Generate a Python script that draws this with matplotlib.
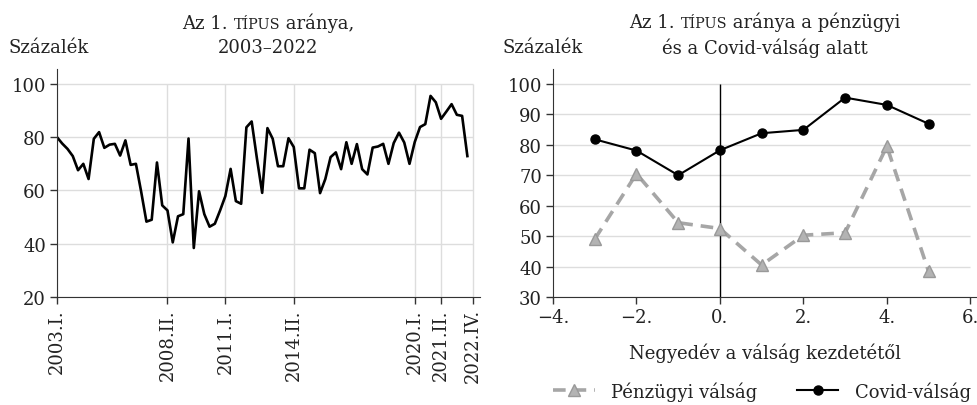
import matplotlib.pyplot as plt
from matplotlib.lines import Line2D
from matplotlib.offsetbox import TextArea, HPacker, VPacker, AnnotationBbox

plt.rcParams['font.family'] = ['DejaVu Serif']

# left panel: share of type 1, quarterly from 2003.I
share = [80, 77.6, 75.6, 72.9, 67.6, 70, 64.3, 79.4, 81.9, 76,
         77.2, 77.5, 73.1, 78.8, 69.6, 70, 59.5, 48.3, 49, 70.5,
         54.4, 52.5, 40.5, 50.3, 51.1, 79.5, 38.4, 59.7, 51.1, 46.4,
         47.5, 52.5, 57.9, 68.1, 56, 55, 83.7, 85.9, 72, 59.1,
         83.4, 79.4, 69.1, 69.1, 79.6, 76.3, 60.8, 60.8, 75.3, 74,
         59, 64.3, 72.5, 74.3, 68, 78.1, 70, 77.4, 68, 66,
         76.1, 76.5, 77.5, 70, 77.8, 81.7, 78, 70, 78.2, 83.8,
         84.9, 95.5, 93.1, 86.9, 89.6, 92.4, 88.4, 88, 72.9]
left_tick_pos = [0, 21, 32, 45, 68, 73, 79]
left_tick_labels = ["2003.I.", "2008.II.", "2011.I.", "2014.II.",
                    "2020.I.", "2021.II.", "2022.IV."]
left_yticks = [20, 40, 60, 80, 100]

# right panel: quarters from crisis start
quarters = [-3, -2, -1, 0, 1, 2, 3, 4, 5]
financial = [49, 70.5, 54.4, 52.5, 40.5, 50.3, 51.1, 79.5, 38.4]
covid = [81.8, 78.1, 70, 78.2, 83.8, 84.9, 95.5, 93.1, 86.9]
right_xticks = [-4, -2, 0, 2, 4, 6]
right_xlabels = ["\u22124.", "\u22122.", "0.", "2.", "4.", "6."]
right_yticks = [30, 40, 50, 60, 70, 80, 90, 100]

FS = 13
txt_c = "#222222"
grid_c = "#dddddd"

fig = plt.figure(figsize=(9.78, 4.06), dpi=100)
ax1 = fig.add_axes([57 / 978, 108 / 406, 423 / 978, 228 / 406])
ax2 = fig.add_axes([553 / 978, 108 / 406, 424 / 978, 228 / 406])

for ax in (ax1, ax2):
    ax.spines["top"].set_visible(False)
    ax.spines["right"].set_visible(False)
    ax.spines["left"].set_color("#333333")
    ax.spines["bottom"].set_color("#333333")
    ax.tick_params(direction="out", length=5, width=1, colors="#333333",
                   labelsize=FS, labelcolor=txt_c, pad=3)

# ---- left
ax1.set_xlim(0, 80.4)
ax1.set_ylim(20, 105.6)
ax1.hlines(left_yticks, 0, 79, color=grid_c, lw=1, zorder=0)
ax1.vlines(left_tick_pos, 20, 100, color=grid_c, lw=1, zorder=0)
ax1.plot(range(len(share)), share, color="black", lw=1.9)
ax1.set_yticks(left_yticks)
ax1.set_xticks(left_tick_pos)
ax1.set_xticklabels(left_tick_labels, rotation=90)

# ---- right
ax2.set_xlim(-4, 6.16)
ax2.set_ylim(30, 104.9)
ax2.hlines(right_yticks, -4, 6, color=grid_c, lw=1, zorder=0)
ax2.vlines(0, 30, 100, color="black", lw=1, zorder=1)
ax2.plot(quarters, financial, color="#a6a6a6", lw=2.6, ls=(0, (3.5, 2.2)),
         marker="^", ms=8, mfc="#b3b3b3", mec="#999999", zorder=3)
ax2.plot(quarters, covid, color="black", lw=1.5, marker="o", ms=6.5, zorder=4)
ax2.set_yticks(right_yticks)
ax2.set_xticks(right_xticks)
ax2.set_xticklabels(right_xlabels)
ax2.set_xlabel("Negyedév a válság kezdetétől", fontsize=FS, labelpad=12,
               color=txt_c)


def title_box(ax, prefix, suffix, line2):
    small = dict(fontsize=FS * 0.8, color=txt_c)
    norm = dict(fontsize=FS, color=txt_c)
    row = HPacker(children=[TextArea(prefix, textprops=norm),
                            TextArea("TÍPUS", textprops=small),
                            TextArea(suffix, textprops=norm)],
                  align="baseline", pad=0, sep=0)
    box = VPacker(children=[row, TextArea(line2, textprops=norm)],
                  align="center", pad=0, sep=4)
    ab = AnnotationBbox(box, (0.5, 1.0), xycoords="axes fraction",
                        xybox=(0, 25), boxcoords="offset points",
                        frameon=False, box_alignment=(0.5, 0.5))
    ax.add_artist(ab)


title_box(ax1, "Az 1. ", " aránya,", "2003–2022")
title_box(ax2, "Az 1. ", " aránya a pénzügyi", "és a Covid-válság alatt")

fig.text(8 / 978, 1 - 48 / 406, "Százalék", fontsize=FS, va="center",
         ha="left", color=txt_c)
fig.text(503 / 978, 1 - 48 / 406, "Százalék", fontsize=FS, va="center",
         ha="left", color=txt_c)

handles = [Line2D([], [], color="#a6a6a6", lw=2.6, ls=(0, (3.5, 2.2)),
                  marker="^", ms=8, mfc="#b3b3b3", mec="#999999"),
           Line2D([], [], color="black", lw=1.5, marker="o", ms=6.5)]
leg = fig.legend(handles, ["Pénzügyi válság", "Covid-válság"], ncol=2,
                 loc="center left", bbox_to_anchor=(553 / 978, 14 / 406),
                 frameon=False, fontsize=FS, handlelength=2.3,
                 handletextpad=0.9, columnspacing=2.2, borderpad=0,
                 borderaxespad=0)
for t in leg.get_texts():
    t.set_color(txt_c)

fig.savefig("out.png", dpi=100)
